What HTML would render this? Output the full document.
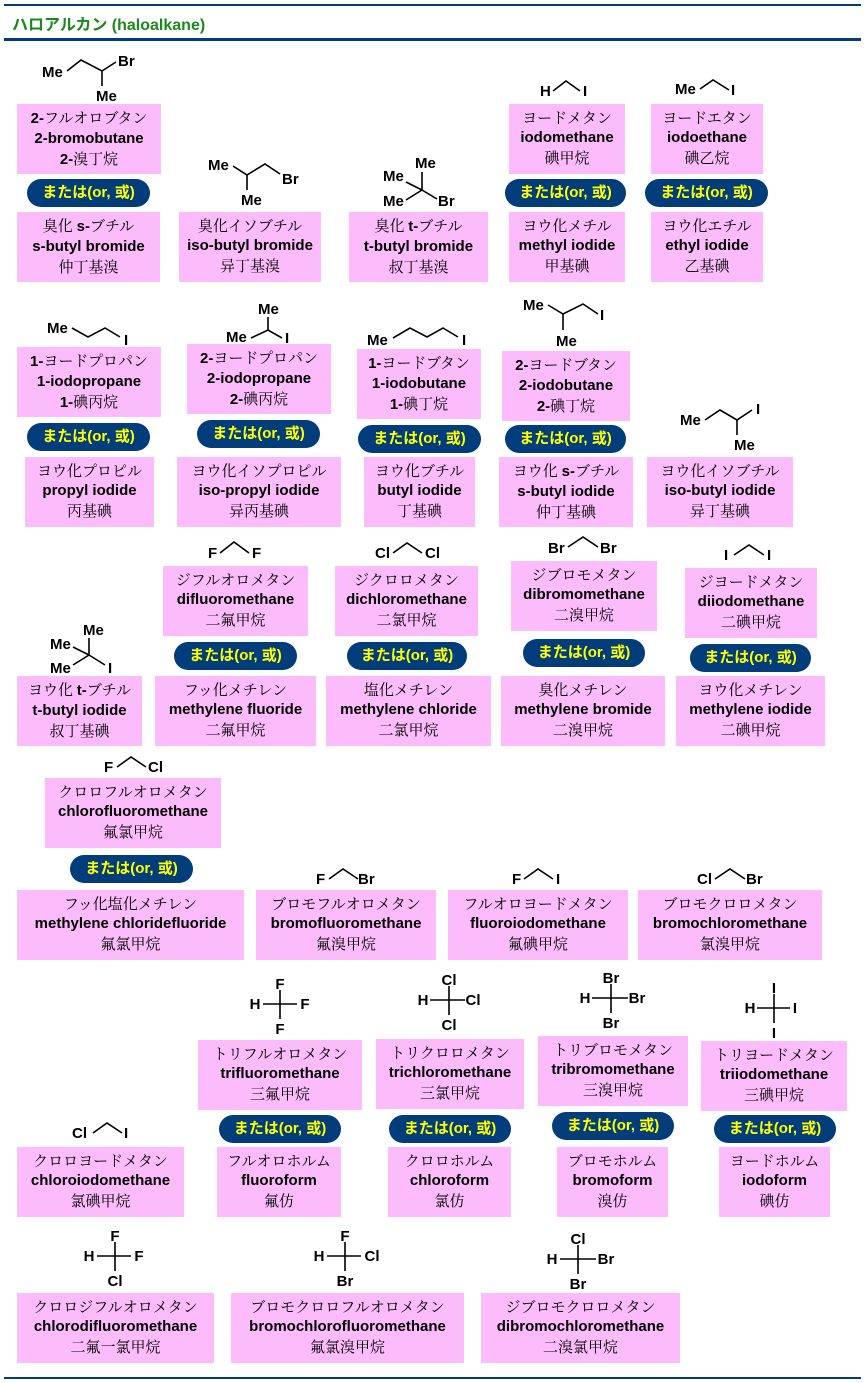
<!DOCTYPE html>
<html><head><meta charset="utf-8"><style>
body{margin:0;width:866px;height:1383px;background:#fff;position:relative;overflow:hidden}
.b{position:absolute;background:#fcbcfc;text-align:center;font:15px/20px "Liberation Sans","Noto Serif CJK JP",serif;padding-top:4px;box-sizing:border-box;height:70px;color:#000;white-space:nowrap}
.b .j{font-family:"Noto Serif CJK JP","Noto Serif CJK SC",serif}
.b .e{font-family:"Liberation Sans",sans-serif;font-weight:bold}
.b b{font-family:"Liberation Sans",sans-serif}
.p{position:absolute;background:#003d7a;color:#ffff00;border-radius:14px;height:28px;font:bold 15px/28px "Liberation Sans","Noto Sans CJK JP",sans-serif;text-align:center;white-space:nowrap}
.hl{position:absolute;left:4px;width:857px;background:#003d7a}
.t{position:absolute;left:12px;top:11px;color:#1a8a1a;font:bold 16px "Liberation Sans","Noto Sans CJK JP",sans-serif}
svg{position:absolute;left:0;top:0}
svg text{font:bold 15px "Liberation Sans",sans-serif;fill:#000}
svg path,svg line{stroke:#000;stroke-width:1.6;fill:none}
</style></head><body>
<div class="hl" style="top:4px;height:2px"></div>
<div class="t">ハロアルカン (haloalkane)</div>
<div class="hl" style="top:38px;height:3px"></div>
<div class="hl" style="top:1377px;height:2px"></div>

<div class="b" style="left:17px;top:104px;width:144px"><div class="j"><b>2-</b>フルオロブタン</div><div class="e">2-bromobutane</div><div class="j"><b>2-</b>溴丁烷</div></div>
<div class="p" style="left:27px;top:179px;width:123px">または(or, 或)</div>
<div class="b" style="left:17px;top:212px;width:143px"><div class="j">臭化 <b>s-</b>ブチル</div><div class="e">s-butyl bromide</div><div class="j">仲丁基溴</div></div>
<div class="b" style="left:179px;top:212px;width:142px"><div class="j">臭化イソブチル</div><div class="e">iso-butyl bromide</div><div class="j">异丁基溴</div></div>
<div class="b" style="left:349px;top:212px;width:139px"><div class="j">臭化 <b>t-</b>ブチル</div><div class="e">t-butyl bromide</div><div class="j">叔丁基溴</div></div>
<div class="b" style="left:509px;top:104px;width:116px"><div class="j">ヨードメタン</div><div class="e">iodomethane</div><div class="j">碘甲烷</div></div>
<div class="p" style="left:505px;top:179px;width:121px">または(or, 或)</div>
<div class="b" style="left:509px;top:212px;width:116px"><div class="j">ヨウ化メチル</div><div class="e">methyl iodide</div><div class="j">甲基碘</div></div>
<div class="b" style="left:651px;top:104px;width:112px"><div class="j">ヨードエタン</div><div class="e">iodoethane</div><div class="j">碘乙烷</div></div>
<div class="p" style="left:645px;top:179px;width:123px">または(or, 或)</div>
<div class="b" style="left:651px;top:212px;width:112px"><div class="j">ヨウ化エチル</div><div class="e">ethyl iodide</div><div class="j">乙基碘</div></div>

<div class="b" style="left:17px;top:347px;width:144px"><div class="j"><b>1-</b>ヨードプロパン</div><div class="e">1-iodopropane</div><div class="j"><b>1-</b>碘丙烷</div></div>
<div class="p" style="left:27px;top:423px;width:123px">または(or, 或)</div>
<div class="b" style="left:25px;top:457px;width:129px"><div class="j">ヨウ化プロピル</div><div class="e">propyl iodide</div><div class="j">丙基碘</div></div>
<div class="b" style="left:187px;top:344px;width:144px"><div class="j"><b>2-</b>ヨードプロパン</div><div class="e">2-iodopropane</div><div class="j"><b>2-</b>碘丙烷</div></div>
<div class="p" style="left:197px;top:420px;width:123px">または(or, 或)</div>
<div class="b" style="left:177px;top:457px;width:164px"><div class="j">ヨウ化イソプロピル</div><div class="e">iso-propyl iodide</div><div class="j">异丙基碘</div></div>
<div class="b" style="left:357px;top:349px;width:124px"><div class="j"><b>1-</b>ヨードブタン</div><div class="e">1-iodobutane</div><div class="j"><b>1-</b>碘丁烷</div></div>
<div class="p" style="left:358px;top:425px;width:123px">または(or, 或)</div>
<div class="b" style="left:364px;top:457px;width:111px"><div class="j">ヨウ化ブチル</div><div class="e">butyl iodide</div><div class="j">丁基碘</div></div>
<div class="b" style="left:502px;top:351px;width:128px"><div class="j"><b>2-</b>ヨードブタン</div><div class="e">2-iodobutane</div><div class="j"><b>2-</b>碘丁烷</div></div>
<div class="p" style="left:505px;top:425px;width:121px">または(or, 或)</div>
<div class="b" style="left:499px;top:457px;width:134px"><div class="j">ヨウ化 <b>s-</b>ブチル</div><div class="e">s-butyl iodide</div><div class="j">仲丁基碘</div></div>
<div class="b" style="left:647px;top:457px;width:146px"><div class="j">ヨウ化イソブチル</div><div class="e">iso-butyl iodide</div><div class="j">异丁基碘</div></div>

<div class="b" style="left:17px;top:676px;width:125px"><div class="j">ヨウ化 <b>t-</b>ブチル</div><div class="e">t-butyl iodide</div><div class="j">叔丁基碘</div></div>
<div class="b" style="left:163px;top:566px;width:145px"><div class="j">ジフルオロメタン</div><div class="e">difluoromethane</div><div class="j">二氟甲烷</div></div>
<div class="p" style="left:174px;top:642px;width:123px">または(or, 或)</div>
<div class="b" style="left:155px;top:676px;width:161px"><div class="j">フッ化メチレン</div><div class="e">methylene fluoride</div><div class="j">二氟甲烷</div></div>
<div class="b" style="left:335px;top:566px;width:143px"><div class="j">ジクロロメタン</div><div class="e">dichloromethane</div><div class="j">二氯甲烷</div></div>
<div class="p" style="left:347px;top:642px;width:120px">または(or, 或)</div>
<div class="b" style="left:326px;top:676px;width:165px"><div class="j">塩化メチレン</div><div class="e">methylene chloride</div><div class="j">二氯甲烷</div></div>
<div class="b" style="left:511px;top:561px;width:146px"><div class="j">ジブロモメタン</div><div class="e">dibromomethane</div><div class="j">二溴甲烷</div></div>
<div class="p" style="left:523px;top:639px;width:122px">または(or, 或)</div>
<div class="b" style="left:501px;top:676px;width:164px"><div class="j">臭化メチレン</div><div class="e">methylene bromide</div><div class="j">二溴甲烷</div></div>
<div class="b" style="left:685px;top:568px;width:132px"><div class="j">ジヨードメタン</div><div class="e">diiodomethane</div><div class="j">二碘甲烷</div></div>
<div class="p" style="left:690px;top:644px;width:121px">または(or, 或)</div>
<div class="b" style="left:676px;top:676px;width:149px"><div class="j">ヨウ化メチレン</div><div class="e">methylene iodide</div><div class="j">二碘甲烷</div></div>

<div class="b" style="left:45px;top:778px;width:176px"><div class="j">クロロフルオロメタン</div><div class="e">chlorofluoromethane</div><div class="j">氟氯甲烷</div></div>
<div class="p" style="left:70px;top:855px;width:123px">または(or, 或)</div>
<div class="b" style="left:17px;top:890px;width:227px"><div class="j">フッ化塩化メチレン</div><div class="e">methylene chloridefluoride</div><div class="j">氟氯甲烷</div></div>
<div class="b" style="left:256px;top:890px;width:180px"><div class="j">ブロモフルオロメタン</div><div class="e">bromofluoromethane</div><div class="j">氟溴甲烷</div></div>
<div class="b" style="left:448px;top:890px;width:180px"><div class="j">フルオロヨードメタン</div><div class="e">fluoroiodomethane</div><div class="j">氟碘甲烷</div></div>
<div class="b" style="left:638px;top:890px;width:184px"><div class="j">ブロモクロロメタン</div><div class="e">bromochloromethane</div><div class="j">氯溴甲烷</div></div>

<div class="b" style="left:17px;top:1147px;width:167px"><div class="j">クロロヨードメタン</div><div class="e">chloroiodomethane</div><div class="j">氯碘甲烷</div></div>
<div class="b" style="left:198px;top:1040px;width:164px"><div class="j">トリフルオロメタン</div><div class="e">trifluoromethane</div><div class="j">三氟甲烷</div></div>
<div class="p" style="left:219px;top:1115px;width:122px">または(or, 或)</div>
<div class="b" style="left:217px;top:1147px;width:124px"><div class="j">フルオロホルム</div><div class="e">fluoroform</div><div class="j">氟仿</div></div>
<div class="b" style="left:376px;top:1039px;width:148px"><div class="j">トリクロロメタン</div><div class="e">trichloromethane</div><div class="j">三氯甲烷</div></div>
<div class="p" style="left:389px;top:1115px;width:122px">または(or, 或)</div>
<div class="b" style="left:388px;top:1147px;width:123px"><div class="j">クロロホルム</div><div class="e">chloroform</div><div class="j">氯仿</div></div>
<div class="b" style="left:538px;top:1036px;width:150px"><div class="j">トリブロモメタン</div><div class="e">tribromomethane</div><div class="j">三溴甲烷</div></div>
<div class="p" style="left:552px;top:1112px;width:122px">または(or, 或)</div>
<div class="b" style="left:557px;top:1147px;width:111px"><div class="j">ブロモホルム</div><div class="e">bromoform</div><div class="j">溴仿</div></div>
<div class="b" style="left:701px;top:1041px;width:146px"><div class="j">トリヨードメタン</div><div class="e">triiodomethane</div><div class="j">三碘甲烷</div></div>
<div class="p" style="left:714px;top:1115px;width:122px">または(or, 或)</div>
<div class="b" style="left:719px;top:1147px;width:111px"><div class="j">ヨードホルム</div><div class="e">iodoform</div><div class="j">碘仿</div></div>

<div class="b" style="left:17px;top:1293px;width:197px"><div class="j">クロロジフルオロメタン</div><div class="e">chlorodifluoromethane</div><div class="j">二氟一氯甲烷</div></div>
<div class="b" style="left:231px;top:1293px;width:233px"><div class="j">ブロモクロロフルオロメタン</div><div class="e">bromochlorofluoromethane</div><div class="j">氟氯溴甲烷</div></div>
<div class="b" style="left:481px;top:1293px;width:199px"><div class="j">ジブロモクロロメタン</div><div class="e">dibromochloromethane</div><div class="j">二溴氯甲烷</div></div>

<svg width="866" height="1383">
<text x="42" y="77">Me</text><path d="M67,71 L81,60 L102,71 L116,62 M102,71 L102,86"/><text x="118" y="66">Br</text><text x="96" y="101">Me</text>
<text x="208" y="170">Me</text><path d="M233,166 L247,175 L265,164 L280,174 M247,175 L247,190"/><text x="282" y="184">Br</text><text x="241" y="205">Me</text>
<!-- t-butyl bromide -->
<text x="415" y="168">Me</text><text x="383" y="181">Me</text><text x="383" y="206">Me</text><text x="438" y="206">Br</text>
<path d="M422,172 L422,190 M406,182 L422,190 M422,190 L406,200 M422,190 L437,199"/>
<text x="540" y="96">H</text><path d="M553,91 L566,81 L580,91"/><text x="583" y="96">I</text>
<text x="675" y="94">Me</text><path d="M700,89 L713,80 L729,90"/><text x="731" y="95">I</text>
<text x="47" y="333">Me</text><path d="M72,328 L88,337 L105,328 L120,337"/><text x="124" y="345">I</text>
<text x="258" y="314">Me</text><path d="M268,317 L268,330 M251,338 L268,330 L282,338"/><text x="226" y="342">Me</text><text x="285" y="343">I</text>
<text x="367" y="345">Me</text><path d="M393,338 L410,328 L427,337 L443,328 L458,337"/><text x="462" y="345">I</text>
<text x="523" y="310">Me</text><path d="M548,305 L563,314 L583,304 L598,314 M563,314 L563,330"/><text x="600" y="320">I</text><text x="556" y="346">Me</text>
<text x="680" y="425">Me</text><path d="M705,420 L720,410 L737,420 L752,410 M737,420 L737,435"/><text x="756" y="414">I</text><text x="734" y="450">Me</text>
<!-- t-butyl iodide -->
<text x="83" y="635">Me</text><text x="50" y="649">Me</text><text x="50" y="673">Me</text><text x="108" y="673">I</text>
<path d="M89,638 L89,655 M73,647 L89,655 M89,655 L73,665 M89,655 L105,665"/>
<text x="208" y="558">F</text><path d="M220,553 L234,542 L249,553"/><text x="252" y="558">F</text>
<text x="375" y="558">Cl</text><path d="M393,553 L407,543 L422,553"/><text x="425" y="558">Cl</text>
<text x="548" y="553">Br</text><path d="M568,547 L583,537 L598,547"/><text x="600" y="553">Br</text>
<text x="724" y="560">I</text><path d="M734,555 L749,545 L764,555"/><text x="767" y="560">I</text>
<text x="104" y="772">F</text><path d="M117,767 L131,757 L146,767"/><text x="148" y="772">Cl</text>
<text x="316" y="884">F</text><path d="M329,879 L343,869 L358,879"/><text x="358" y="884">Br</text>
<text x="512" y="884">F</text><path d="M524,879 L538,869 L553,879"/><text x="556" y="884">I</text>
<text x="697" y="884">Cl</text><path d="M715,879 L730,869 L745,879"/><text x="746" y="884">Br</text>
<text x="72" y="1138">Cl</text><path d="M93,1133 L107,1123 L122,1133"/><text x="124" y="1138">I</text>
<g text-anchor="middle">
<path d="M263,1004 L297,1004 M280,990 L280,1019"/><text x="280" y="989">F</text><text x="280" y="1034">F</text><text x="255" y="1009">H</text><text x="305" y="1009">F</text>
<path d="M430,1000 L465,1000 M449,986 L449,1015"/><text x="449" y="985">Cl</text><text x="449" y="1030">Cl</text><text x="423" y="1005">H</text><text x="473" y="1005">Cl</text>
<path d="M592,998 L628,998 M611,984 L611,1013"/><text x="611" y="983">Br</text><text x="611" y="1028">Br</text><text x="585" y="1003">H</text><text x="637" y="1003">Br</text>
<path d="M757,1008 L790,1008 M774,994 L774,1023"/><text x="774" y="993">I</text><text x="774" y="1038">I</text><text x="750" y="1013">H</text><text x="795" y="1013">I</text>
<path d="M97,1256 L131,1256 M115,1242 L115,1271"/><text x="115" y="1241">F</text><text x="115" y="1286">Cl</text><text x="89" y="1261">H</text><text x="139" y="1261">F</text>
<path d="M327,1256 L361,1256 M345,1242 L345,1271"/><text x="345" y="1241">F</text><text x="345" y="1286">Br</text><text x="319" y="1261">H</text><text x="372" y="1261">Cl</text>
<path d="M560,1259 L596,1259 M578,1245 L578,1274"/><text x="578" y="1244">Cl</text><text x="578" y="1289">Br</text><text x="552" y="1264">H</text><text x="606" y="1264">Br</text>
</g>
</svg>
</body></html>
